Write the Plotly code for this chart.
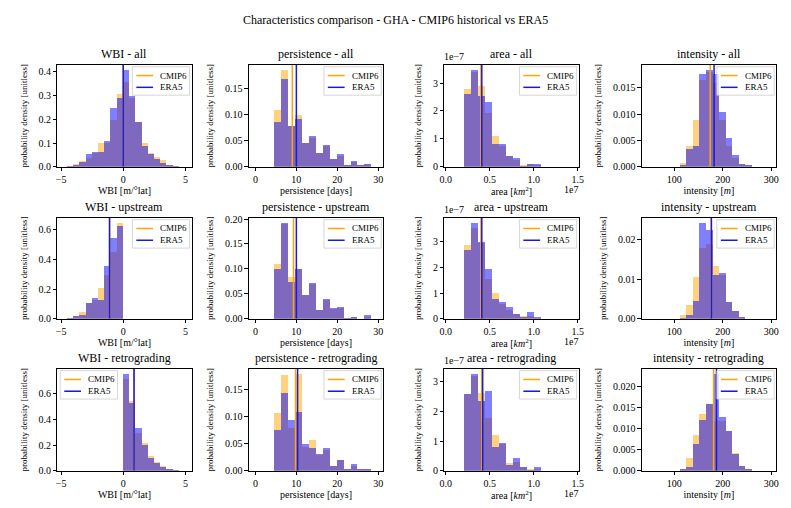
import plotly.graph_objects as go
from plotly.subplots import make_subplots

# ---------------- data ----------------
variables = ["WBI", "persistence", "area", "intensity"]
subsets = ["all", "upstream", "retrograding"]
series_names = ["CMIP6", "ERA5"]

wbi_all_edges = [-4.5, -4.0, -3.5, -3.0, -2.5, -2.0, -1.5, -1.0, -0.5, 0.0,
                 0.5, 1.0, 1.5, 2.0, 2.5, 3.0, 3.5, 4.0, 4.5]
wbi_all_cmip6 = [0.004, 0.012, 0.025, 0.038, 0.06, 0.10, 0.10, 0.20, 0.31, 0.36,
                 0.29, 0.19, 0.10, 0.06, 0.04, 0.03, 0.008, 0.003]
wbi_all_era5 = [0.002, 0.010, 0.020, 0.053, 0.065, 0.065, 0.11, 0.25, 0.29, 0.41,
                0.30, 0.19, 0.09, 0.055, 0.035, 0.015, 0.006, 0.002]

wbi_up_edges = [-4.5, -4.0, -3.5, -3.0, -2.5, -2.0, -1.5, -1.0, -0.5, 0.0]
wbi_up_cmip6 = [0.005, 0.02, 0.045, 0.11, 0.13, 0.21, 0.30, 0.45, 0.65]
wbi_up_era5 = [0.003, 0.02, 0.025, 0.11, 0.14, 0.13, 0.36, 0.55, 0.63]

wbi_retro_edges = [0.0, 0.5, 1.0, 1.5, 2.0, 2.5, 3.0, 3.5, 4.0, 4.5]
wbi_retro_cmip6 = [0.72, 0.55, 0.30, 0.22, 0.12, 0.07, 0.04, 0.015, 0.004]
wbi_retro_era5 = [0.76, 0.53, 0.34, 0.20, 0.10, 0.06, 0.03, 0.010, 0.002]

pers_edges = [4.5, 6.2, 7.9, 9.6, 11.3, 13.0, 14.7, 16.4, 18.1, 19.8,
              21.5, 23.2, 24.9, 26.6, 28.3]
pers_all_cmip6 = [0.109, 0.187, 0.079, 0.100, 0.046, 0.055, 0.027, 0.040, 0.016, 0.022,
                  0.002, 0.010, 0.004, 0.005]
pers_all_era5 = [0.087, 0.169, 0.079, 0.092, 0.047, 0.059, 0.027, 0.043, 0.016, 0.024,
                 0.003, 0.011, 0.004, 0.006]
pers_up_cmip6 = [0.110, 0.190, 0.085, 0.100, 0.048, 0.070, 0.018, 0.038, 0.020, 0.023,
                 0.001, 0.003, 0.000, 0.004]
pers_up_era5 = [0.100, 0.193, 0.075, 0.100, 0.048, 0.073, 0.018, 0.040, 0.022, 0.025,
                0.001, 0.003, 0.000, 0.007]
pers_retro_cmip6 = [0.107, 0.178, 0.080, 0.180, 0.045, 0.058, 0.030, 0.038, 0.010, 0.020,
                    0.003, 0.010, 0.002, 0.002]
pers_retro_era5 = [0.076, 0.145, 0.094, 0.110, 0.050, 0.043, 0.032, 0.042, 0.010, 0.020,
                   0.003, 0.013, 0.002, 0.002]

# area in units of 1e7 km^2, density in units of 1e-7
area_edges = [0.21, 0.29, 0.37, 0.45, 0.53, 0.61, 0.69, 0.77, 0.85, 0.93, 1.01, 1.09]
area_all_cmip6 = [2.80, 3.40, 2.90, 1.95, 1.12, 0.75, 0.40, 0.25, 0.05, 0.10, 0.06]
area_all_era5 = [2.60, 3.48, 2.55, 2.33, 0.82, 0.82, 0.40, 0.33, 0.02, 0.12, 0.10]
area_up_cmip6 = [2.90, 3.55, 2.95, 1.55, 1.00, 0.60, 0.35, 0.20, 0.12, 0.10, 0.03]
area_up_era5 = [2.68, 3.75, 3.00, 1.95, 0.78, 0.65, 0.48, 0.20, 0.08, 0.28, 0.08]
area_retro_cmip6 = [2.60, 3.20, 2.65, 1.80, 1.20, 0.90, 0.27, 0.30, 0.15, 0.05, 0.08]
area_retro_era5 = [2.60, 3.28, 2.35, 2.70, 0.80, 0.95, 0.20, 0.45, 0.15, 0.02, 0.13]

int_edges = [111.0, 124.5, 138.0, 151.5, 165.0, 178.5, 192.0, 205.5, 219.0, 232.5, 246.0, 259.5]
int_all_cmip6 = [0.0008, 0.0040, 0.0090, 0.0165, 0.0180, 0.0160, 0.0090, 0.0040, 0.0018, 0.0006, 0.0003]
int_all_era5 = [0.0003, 0.0035, 0.0040, 0.0177, 0.0185, 0.0178, 0.0105, 0.0055, 0.0022, 0.0006, 0.0003]
int_up_cmip6 = [0.0010, 0.0035, 0.0105, 0.0180, 0.0190, 0.0135, 0.0110, 0.0042, 0.0020, 0.0005, 0.0000]
int_up_era5 = [0.0002, 0.0010, 0.0045, 0.0243, 0.0225, 0.0110, 0.0115, 0.0042, 0.0020, 0.0003, 0.0000]
int_retro_cmip6 = [0.0005, 0.0030, 0.0085, 0.0135, 0.0160, 0.0120, 0.0120, 0.0095, 0.0042, 0.0012, 0.0005]
int_retro_era5 = [0.0003, 0.0010, 0.0065, 0.0122, 0.0160, 0.0232, 0.0130, 0.0095, 0.0040, 0.0012, 0.0005]

# means (vertical lines): [all, upstream, retrograding]
wbi_mean_cmip6 = [0.0, -1.1, 0.87]
wbi_mean_era5 = [0.0, -1.1, 0.87]
pers_mean_cmip6 = [9.0, 9.3, 9.8]
pers_mean_era5 = [10.0, 10.0, 10.3]
area_mean_cmip6 = [0.40, 0.40, 0.41]
area_mean_era5 = [0.41, 0.41, 0.42]
int_mean_cmip6 = [174.0, 176.0, 181.0]
int_mean_era5 = [182.0, 176.5, 187.0]

x_titles = ["WBI [m/°lat]", "persistence [days]", "area [<i>km</i><sup>2</sup>]", "intensity [<i>m</i>]"]
y_title = "probability density [unitless]"

panels = {
    (0, 0): (wbi_all_edges, wbi_all_cmip6, wbi_all_era5, wbi_mean_cmip6[0], wbi_mean_era5[0]),
    (1, 0): (wbi_up_edges, wbi_up_cmip6, wbi_up_era5, wbi_mean_cmip6[1], wbi_mean_era5[1]),
    (2, 0): (wbi_retro_edges, wbi_retro_cmip6, wbi_retro_era5, wbi_mean_cmip6[2], wbi_mean_era5[2]),
    (0, 1): (pers_edges, pers_all_cmip6, pers_all_era5, pers_mean_cmip6[0], pers_mean_era5[0]),
    (1, 1): (pers_edges, pers_up_cmip6, pers_up_era5, pers_mean_cmip6[1], pers_mean_era5[1]),
    (2, 1): (pers_edges, pers_retro_cmip6, pers_retro_era5, pers_mean_cmip6[2], pers_mean_era5[2]),
    (0, 2): (area_edges, area_all_cmip6, area_all_era5, area_mean_cmip6[0], area_mean_era5[0]),
    (1, 2): (area_edges, area_up_cmip6, area_up_era5, area_mean_cmip6[1], area_mean_era5[1]),
    (2, 2): (area_edges, area_retro_cmip6, area_retro_era5, area_mean_cmip6[2], area_mean_era5[2]),
    (0, 3): (int_edges, int_all_cmip6, int_all_era5, int_mean_cmip6[0], int_mean_era5[0]),
    (1, 3): (int_edges, int_up_cmip6, int_up_era5, int_mean_cmip6[1], int_mean_era5[1]),
    (2, 3): (int_edges, int_retro_cmip6, int_retro_era5, int_mean_cmip6[2], int_mean_era5[2]),
}

# ---------------- styling / layout ----------------
W, H = 791, 508
FONT = "Liberation Serif, Times New Roman, Times, serif"
C_ORANGE = "#FFA500"
C_BLUE = "#0000FF"
C_BLUE_LINE = "#1a1ad0"
line_colors = [C_ORANGE, C_BLUE_LINE]

col_px = [(53, 189), (247, 383), (445, 581), (645, 781)]
row_px = [(62, 166), (218, 321), (372, 476)]
x_ranges = [[-5.3, 5.5], [-1.6, 31.2], [-0.015, 1.51], [33, 310]]
x_ticks = [[-5, 0, 5], [0, 10, 20, 30], [0.0, 0.5, 1.0, 1.5], [100, 200, 300]]
x_tickfmt = ["d", "d", ".1f", "d"]
y_dtick = {(0, 0): 0.1, (1, 0): 0.2, (2, 0): 0.2,
           (0, 1): 0.05, (1, 1): 0.05, (2, 1): 0.05,
           (0, 2): 1, (1, 2): 1, (2, 2): 1,
           (0, 3): 0.005, (1, 3): 0.01, (2, 3): 0.005}
y_fmt = {(0, 0): ".1f", (1, 0): ".1f", (2, 0): ".1f",
         (0, 1): ".2f", (1, 1): ".2f", (2, 1): ".2f",
         (0, 2): "d", (1, 2): "d", (2, 2): "d",
         (0, 3): ".3f", (1, 3): ".2f", (2, 3): ".3f"}

fig = make_subplots(rows=3, cols=4)

annotations = []
shapes = []


def px_x(p):
    return p / W


def px_y(p):
    return 1 - p / H


for r in range(3):
    for c in range(4):
        edges, cm, er, mc, me = panels[(r, c)]
        idx = r * 4 + c + 1
        lefts = edges[:-1]
        widths = [edges[i + 1] - edges[i] for i in range(len(edges) - 1)]
        ytop = 1.05 * max(max(cm), max(er))
        fig.add_trace(go.Bar(x=lefts, y=cm, width=widths, offset=0, name="CMIP6",
                             marker=dict(color=C_ORANGE, line=dict(width=0)),
                             opacity=0.5, showlegend=False, hoverinfo="skip"),
                      row=r + 1, col=c + 1)
        fig.add_trace(go.Bar(x=lefts, y=er, width=widths, offset=0, name="ERA5",
                             marker=dict(color=C_BLUE, line=dict(width=0)),
                             opacity=0.5, showlegend=False, hoverinfo="skip"),
                      row=r + 1, col=c + 1)
        fig.add_trace(go.Scatter(x=[mc, mc], y=[0, ytop], mode="lines",
                                 line=dict(color=C_ORANGE, width=1.5),
                                 name="CMIP6", showlegend=False),
                      row=r + 1, col=c + 1)
        fig.add_trace(go.Scatter(x=[me, me], y=[0, ytop], mode="lines",
                                 line=dict(color=C_BLUE_LINE, width=1.5),
                                 name="ERA5", showlegend=False),
                      row=r + 1, col=c + 1)

        x0, x1 = col_px[c]
        y0, y1 = row_px[r]
        xa = "xaxis" if idx == 1 else f"xaxis{idx}"
        ya = "yaxis" if idx == 1 else f"yaxis{idx}"
        common = dict(showline=True, mirror=True, linecolor="black", linewidth=0.8,
                      ticks="outside", ticklen=3.5, tickwidth=0.8, tickcolor="black",
                      showgrid=False, zeroline=False,
                      tickfont=dict(family=FONT, size=10, color="black"))
        fig.layout[xa].update(domain=[px_x(x0), px_x(x1)], range=x_ranges[c],
                              tickvals=x_ticks[c], tickformat=x_tickfmt[c],
                              title=dict(text=x_titles[c], standoff=2,
                                         font=dict(family=FONT, size=10, color="black")),
                              **common)
        fig.layout[ya].update(domain=[px_y(y1), px_y(y0)], range=[0, ytop],
                              dtick=y_dtick[(r, c)], tick0=0, tickformat=y_fmt[(r, c)],
                              title=dict(text=y_title, standoff=9,
                                         font=dict(family=FONT, size=9, color="black")),
                              **common)

        # legend box (drawn like matplotlib's legend)
        if (r, c) == (2, 0):
            bl = x0 + 3
        else:
            bl = x1 - 60
        br, bt, bb = bl + 58, y0 + 2, y0 + 31
        shapes.append(dict(type="rect", xref="paper", yref="paper",
                           x0=px_x(bl), x1=px_x(br), y0=px_y(bb), y1=px_y(bt),
                           line=dict(color="#cccccc", width=0.8),
                           fillcolor="rgba(255,255,255,0.8)", layer="above"))
        for k, name in enumerate(series_names):
            ly = bt + 9 + 12 * k
            shapes.append(dict(type="line", xref="paper", yref="paper",
                               x0=px_x(bl + 4), x1=px_x(bl + 21),
                               y0=px_y(ly), y1=px_y(ly),
                               line=dict(color=line_colors[k], width=1.5), layer="above"))
            annotations.append(dict(text=name, x=px_x(bl + 26), y=px_y(ly),
                                    xref="paper", yref="paper", xanchor="left",
                                    yanchor="middle", showarrow=False,
                                    font=dict(family=FONT, size=9, color="black")))

        # subplot title
        annotations.append(dict(text=f"{variables[c]} - {subsets[r]}", x=px_x((x0 + x1) / 2),
                                y=px_y(y0 - 2), xref="paper", yref="paper",
                                xanchor="center", yanchor="bottom", showarrow=False,
                                font=dict(family=FONT, size=12, color="black")))
        if c == 2:
            annotations.append(dict(text="1e\u22127", x=px_x(x0 - 2), y=px_y(y0 - 1),
                                    xref="paper", yref="paper", xanchor="left",
                                    yanchor="bottom", showarrow=False,
                                    font=dict(family=FONT, size=10, color="black")))
            annotations.append(dict(text="1e7", x=px_x(x1 + 1), y=px_y(y1 + 16),
                                    xref="paper", yref="paper", xanchor="right",
                                    yanchor="top", showarrow=False,
                                    font=dict(family=FONT, size=10, color="black")))

annotations.append(dict(text="Characteristics comparison - GHA - CMIP6 historical vs ERA5",
                        x=0.5, y=px_y(7), xref="paper", yref="paper",
                        xanchor="center", yanchor="top", showarrow=False,
                        font=dict(family=FONT, size=12, color="black")))

fig.update_layout(width=W, height=H, margin=dict(l=0, r=0, t=0, b=0),
                  barmode="overlay", bargap=0, plot_bgcolor="white",
                  paper_bgcolor="white", annotations=annotations, shapes=shapes,
                  showlegend=False, font=dict(family=FONT, color="black"))

fig.write_html("out.html")
